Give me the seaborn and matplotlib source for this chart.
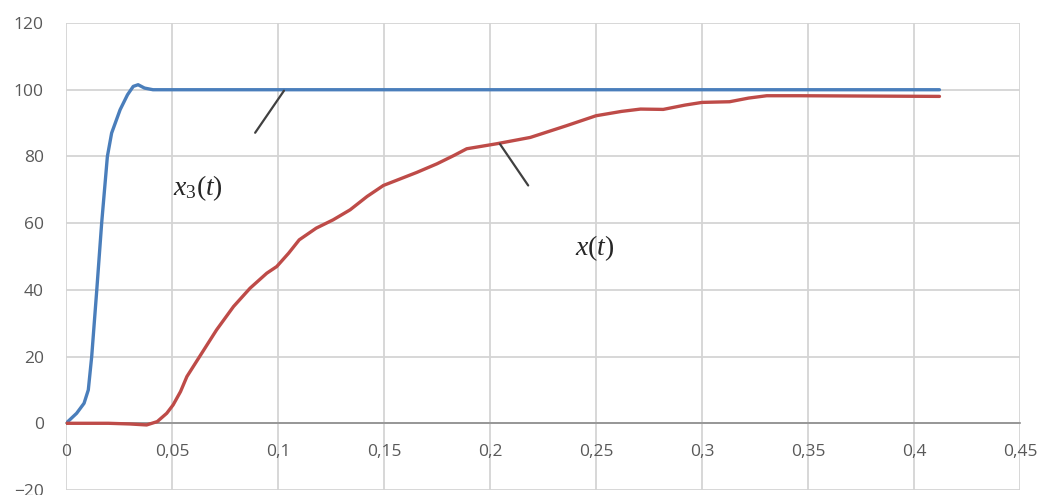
"""
Step response: reference x3(t) vs output x(t)
Excel-style line chart redrawn with seaborn.
"""

import matplotlib
matplotlib.use("Agg")
import matplotlib.pyplot as plt
from matplotlib.ticker import FuncFormatter, MultipleLocator
import seaborn as sns

# reference signal x3(t)
t_ref = [0, 0.005, 0.0085, 0.0105, 0.0121, 0.0145, 0.0168, 0.0195, 0.0215,
         0.0255, 0.029, 0.0317, 0.034, 0.037, 0.041, 0.05, 0.1, 0.2, 0.3, 0.412]
x_ref = [0, 3, 6, 10, 20, 40, 60, 80, 87,
         94, 98.5, 101, 101.5, 100.5, 100, 100, 100, 100, 100, 100]

# system output x(t)
t_out = [0, 0.02, 0.03, 0.038, 0.043, 0.0475, 0.0505, 0.054, 0.057, 0.063, 0.071,
         0.079, 0.0868, 0.0947, 0.0994, 0.105, 0.110, 0.118, 0.126, 0.134,
         0.142, 0.1497, 0.1654, 0.175, 0.183, 0.189, 0.2031, 0.219, 0.236, 0.250,
         0.262, 0.271, 0.2817, 0.292, 0.300, 0.313, 0.322, 0.3305, 0.346, 0.412]
x_out = [0, 0, -0.2, -0.5, 0.5, 3, 5.5, 9.5, 14, 20, 28,
         35, 40.5, 45, 47, 51, 55, 58.5, 61, 64,
         68, 71.3, 75.2, 77.8, 80.3, 82.3, 83.8, 85.7, 89.2, 92.2,
         93.5, 94.2, 94.1, 95.4, 96.2, 96.4, 97.5, 98.2, 98.2, 98.0]

sns.set_style("white")
plt.rcParams["font.family"] = ["Open Sans", "DejaVu Sans"]
plt.rcParams["mathtext.fontset"] = "custom"
plt.rcParams["mathtext.it"] = "Liberation Serif:italic"
plt.rcParams["mathtext.rm"] = "Liberation Serif"

fig = plt.figure(figsize=(10.45, 4.95), dpi=100)
ax = fig.add_axes([0.0632, 0.0101, 0.9129, 0.9434])

sns.lineplot(x=t_ref, y=x_ref, ax=ax, color="#4a7ebb", linewidth=2.4)
sns.lineplot(x=t_out, y=x_out, ax=ax, color="#be4b48", linewidth=2.4)

ax.set_xlim(0, 0.45)
ax.set_ylim(-20, 120)
ax.xaxis.set_major_locator(MultipleLocator(0.05))
ax.yaxis.set_major_locator(MultipleLocator(20))
ax.xaxis.set_major_formatter(FuncFormatter(lambda v, p: f"{v:g}".replace(".", ",")))
ax.grid(True, color="#d4d4d4", linewidth=1.3)
ax.set_axisbelow(True)

for s in ["top", "right", "left"]:
    ax.spines[s].set_visible(False)
ax.spines["bottom"].set_position(("data", 0))
ax.spines["bottom"].set_color("#8c8c8c")
ax.spines["bottom"].set_linewidth(1.2)
ax.spines["bottom"].set_zorder(1)

ax.tick_params(axis="x", length=0, pad=15, labelsize=12.5, labelcolor="#595959")
ax.tick_params(axis="y", length=0, pad=16, labelsize=12.5, labelcolor="#595959")

# leader lines and curve labels
ax.plot([0.0892, 0.1028], [87.1, 99.7], color="#404040", linewidth=1.6)
ax.plot([0.2047, 0.218], [83.7, 71.3], color="#404040", linewidth=1.6)
ax.text(0.0505, 70.4, r"$x_{\mathrm{3}}(t)$", fontsize=20, va="center", ha="left")
ax.text(0.240, 52.4, r"$x(t)$", fontsize=20, va="center", ha="left")

fig.savefig("out.png", dpi=100)
plt.close()
